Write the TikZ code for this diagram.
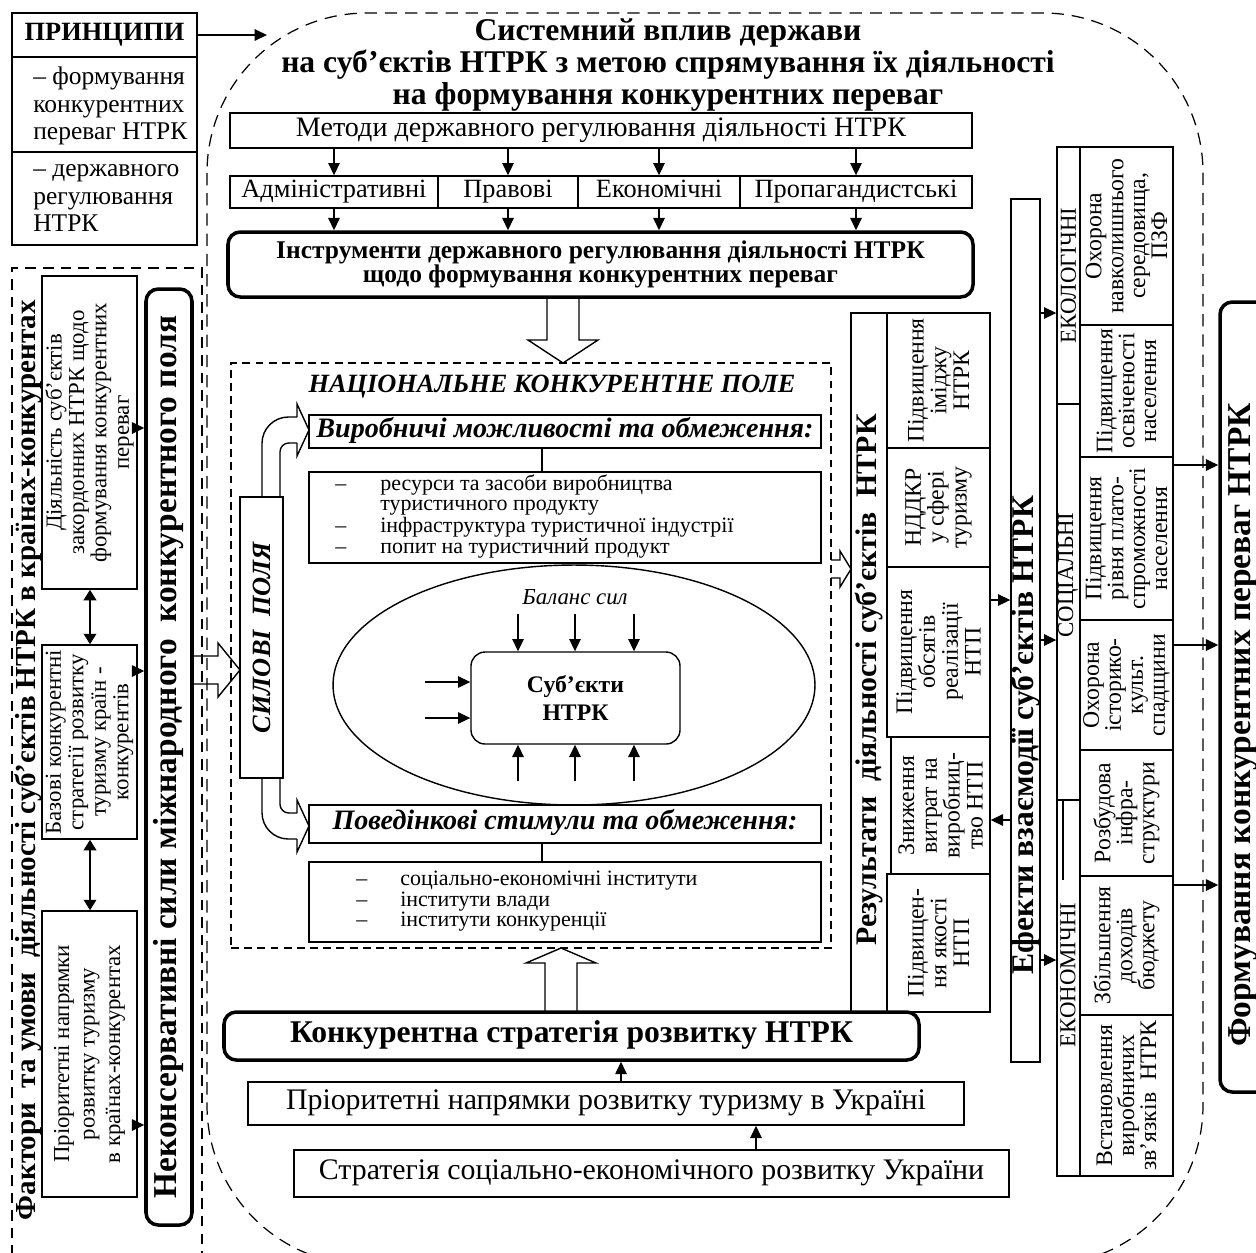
\documentclass[tikz,border=0pt]{standalone}
\usepackage{fontspec}
\setmainfont{Liberation Serif}
\usetikzlibrary{arrows.meta,fit,shapes.geometric}
\newcommand\fsz[2]{\fontsize{#1}{#2}\selectfont}
\begin{document}
\begin{tikzpicture}[x=0.02cm,y=-0.02cm,
  bx/.style={draw, line width=0.8pt, inner sep=0pt},
  tbx/.style={draw, line width=2pt, inner sep=0pt, rounded corners=7pt},
  arr/.style={-{Triangle[length=7pt,width=6.5pt]}, line width=0.8pt},
  darr/.style={{Triangle[length=6pt,width=7pt]}-{Triangle[length=6pt,width=7pt]}, line width=1.4pt},
  hol/.style={line width=0.8pt},
  txt/.style={inner sep=0pt, align=center},
  rtxt/.style={inner sep=0pt, align=center, rotate=90},
  bigdash/.style={line width=0.7pt, dash pattern=on 7pt off 4.5pt},
  smalldash/.style={line width=0.8pt, dash pattern=on 4.5pt off 3pt},
]
\useasboundingbox (0,0) rectangle (1256,1252);

% ---------- big dashed region
\draw[bigdash, rounded corners=3.2cm] (207,13) rectangle (1203,1265);

% ---------- principles
\node[bx, fit={(12,13) (197,57)}] (pr1) {};
\node[bx, fit={(12,57) (197,152)}] (pr2) {};
\node[bx, fit={(12,152) (197,245)}] (pr3) {};
\node[txt, font=\fsz{15}{16}\bfseries] at (pr1) {ПРИНЦИПИ};
\node[txt, align=left, anchor=west, font=\fsz{14.5}{15.6}] at (33,106) {– формування\\конкурентних\\переваг НТРК};
\node[txt, align=left, anchor=west, font=\fsz{14.5}{15.6}] at (33,198) {– державного\\регулювання\\НТРК};
\coordinate (prA) at (267,35);
\draw[arr] (pr1.east) -- (prA);

% ---------- title
\node[txt, font=\fsz{18}{18.2}\bfseries] (title) at (668,65) {Системний вплив держави\\на суб’єктів НТРК з метою спрямування їх діяльності\\на формування конкурентних переваг};

% ---------- methods
\node[bx, fit={(230,113) (972,148)}] (met) {};
\node[txt, font=\fsz{16}{17}] at (met) {\strut Методи державного регулювання діяльності НТРК};
\node[bx, fit={(230,176) (438,208)}] (m1) {};
\node[bx, fit={(438,176) (578,208)}] (m2) {};
\node[bx, fit={(578,176) (740,208)}] (m3) {};
\node[bx, fit={(740,176) (972,208)}] (m4) {};
\node[txt, font=\fsz{15}{16}] at (m1) {\strut Адміністративні};
\node[txt, font=\fsz{15}{16}] at (m2) {\strut Правові};
\node[txt, font=\fsz{15}{16}] at (m3) {\strut Економічні};
\node[txt, font=\fsz{15}{16}] at (m4) {\strut Пропагандистські};
\node[tbx, fit={(228,232) (973,297)}] (ins) {};
\node[txt, font=\fsz{14.5}{14}\bfseries] at (ins) {Інструменти державного регулювання діяльності НТРК\\щодо формування конкурентних переваг};
\foreach \m in {m1,m2,m3,m4}{
  \draw[arr] (met.south -| \m) -- (\m.north);
  \draw[arr] (\m.south) -- (ins.north -| \m);
}
% hollow arrow down
\draw[hol] (547,297) -- (547,340) -- (528,340) -- (563,363) -- (598,340) -- (579,340) -- (579,297);

% ---------- national field
\node[smalldash, draw, inner sep=0pt, fit={(231,363) (831,948)}] (nat) {};
\node[txt, font=\fsz{15}{16}\bfseries\itshape] at (552,387) {НАЦІОНАЛЬНЕ КОНКУРЕНТНЕ ПОЛЕ};

\node[bx, fit={(309,415) (821,448)}] (vyr) {};
\node[txt, font=\fsz{16}{17}\bfseries\itshape] at (vyr) {\strut Виробничі можливості та обмеження:};
\node[bx, fit={(309,472) (821,563)}] (l1) {};
\node[anchor=west, inner sep=0pt, font=\fsz{12.5}{11.8}] at (335,517) {\begin{tabular}{@{}p{0.9cm}@{}l@{}}–&ресурси та засоби виробництва\\&туристичного продукту\\–&інфраструктура туристичної індустрії\\–&попит на туристичний продукт\end{tabular}};
\coordinate (cx) at (542,0);
\draw[line width=0.8pt] (vyr.south -| cx) -- (l1.north -| cx);

\node[draw, ellipse, line width=0.8pt, minimum width=9.64cm, minimum height=4.8cm, inner sep=0pt] (ell) at (574,685) {};
\node[txt, font=\fsz{13}{14}\itshape] (bal) at (575,597) {Баланс сил};
\node[bx, rounded corners=8pt, fit={(471,652) (680,744)}] (sub) {};
\node[txt, font=\fsz{13.5}{16}\bfseries] at (sub) {Суб’єкти\\НТРК};
\foreach \xx [count=\i] in {518,575,634}{
  \coordinate (t\i) at (\xx,614);
  \coordinate (b\i) at (\xx,781);
  \draw[arr] (t\i) -- (t\i |- sub.north);
  \draw[arr] (b\i) -- (b\i |- sub.south);
}
\coordinate (w1) at (425,682);
\coordinate (w2) at (425,718);
\draw[arr] (w1) -- (w1 -| sub.west);
\draw[arr] (w2) -- (w2 -| sub.west);

\node[bx, fit={(309,805) (821,843)}] (pov) {};
\node[txt, font=\fsz{16}{17}\bfseries\itshape] at (pov) {\strut Поведінкові стимули та обмеження:};
\node[bx, fit={(309,862) (821,942)}] (l2) {};
\node[anchor=west, inner sep=0pt, font=\fsz{12.5}{11.8}] at (356,902) {\begin{tabular}{@{}p{0.88cm}@{}l@{}}–&соціально-економічні інститути\\–&інститути влади\\–&інститути конкуренції\end{tabular}};
\draw[line width=0.8pt] (pov.south -| cx) -- (l2.north -| cx);

% silovi polia
\node[bx, fit={(240,497) (283,778)}] (sil) {};
\node[rtxt, font=\fsz{15}{16}\bfseries\itshape] at (sil) {СИЛОВІ\ \ ПОЛЯ};
\draw[hol, rounded corners=15pt] (262,497) -- (262,417) -- (297,417);
\draw[hol, rounded corners=5pt] (280,497) -- (280,443) -- (297,443);
\draw[hol] (297,417) -- (297,404) -- (309,430) -- (297,456) -- (297,443);
\draw[hol, rounded corners=15pt] (262,778) -- (262,839) -- (297,839);
\draw[hol, rounded corners=5pt] (280,778) -- (280,813) -- (297,813);
\draw[hol] (297,813) -- (297,800) -- (309,826) -- (297,852) -- (297,839);

% ---------- bottom strategy
\node[tbx, fit={(224,1012) (919,1060)}] (kon) {};
\node[txt, font=\fsz{18}{19}\bfseries] at (kon) {\strut Конкурентна стратегія розвитку НТРК};
\node[bx, fit={(248,1082) (964,1125)}] (pu) {};
\node[txt, font=\fsz{17}{18}] at (pu) {\strut Пріоритетні напрямки розвитку туризму в Україні};
\node[bx, fit={(294,1150) (1009,1197)}] (su) {};
\node[txt, font=\fsz{17}{18}] at (su) {\strut Стратегія соціально-економічного розвитку України};
\coordinate (xk) at (621,0);
\coordinate (xs) at (756,0);
\draw[arr] (pu.north -| xk) -- (kon.south -| xk);
\draw[arr] (su.north -| xs) -- (pu.south -| xs);
\draw[hol] (545,1012) -- (545,963) -- (526,963) -- (561,948) -- (596,963) -- (577,963) -- (577,1012);

% ---------- left column
\node[line width=0.8pt, dash pattern=on 6pt off 4pt, draw, inner sep=0pt, fit={(12,268) (202,1300)}] (lft) {};
\node[rtxt, font=\fsz{16.5}{18}\bfseries] at (28,760) {Фактори\ \ та умови\ \ діяльності суб’єктів НТРК в країнах-конкурентах};
\node[bx, fit={(42,276) (137,589)}] (lb1) {};
\node[bx, fit={(42,645) (137,839)}] (lb2) {};
\node[bx, fit={(42,911) (137,1197)}] (lb3) {};
\node[rtxt, font=\fsz{13}{12.8}] at (lb1) {Діяльність суб’єктів\\закордонних НТРК щодо\\формування конкурентних\\переваг};
\node[rtxt, font=\fsz{13}{12.8}] at (lb2) {Базові конкурентні\\стратегії розвитку\\туризму країн -\\конкурентів};
\node[rtxt, font=\fsz{13}{14.5}] at (lb3) {Пріоритетні напрямки\\розвитку туризму\\в країнах-конкурентах};
\coordinate (x90) at (90,0);
\draw[darr] (lb1.south -| x90) -- (lb2.north -| x90);
\draw[darr] (lb2.south -| x90) -- (lb3.north -| x90);
\node[tbx, fit={(146,289) (192,1225)}] (nk) {};
\node[rtxt, font=\fsz{19}{20}\bfseries] at (nk) {Неконсервативні сили міжнародного\ \ конкурентного поля};
\coordinate (ya1) at (0,428);
\coordinate (ya2) at (0,671);
\coordinate (ya3) at (0,1125);
\draw[arr] (lb1.east |- ya1) -- (nk.west |- ya1);
\draw[arr] (lb2.east |- ya2) -- (nk.west |- ya2);
\draw[arr] (lb3.east |- ya3) -- (nk.west |- ya3);
\draw[hol] (192,656) -- (218,656) -- (218,643) -- (240,670) -- (218,697) -- (218,684) -- (192,684);

% ---------- results
\draw[hol] (831,560) -- (840,560) -- (840,551) -- (851,569) -- (840,587) -- (840,578) -- (831,578);
\node[bx, fit={(851,313) (990,1012)}] (res) {};
\node[rtxt, font=\fsz{17}{18}\bfseries] at (869,680) {Результати\ \ діяльності суб’єктів\ \ НТРК};
\node[bx, fit={(887,313) (990,448)}] (r1) {};
\node[bx, fit={(887,448) (990,567)}] (r2) {};
\node[bx, fit={(887,567) (990,737)}] (r3) {};
\node[bx, fit={(891,737) (990,874)}] (r4) {};
\node[bx, fit={(887,874) (990,1012)}] (r5) {};
\node[rtxt, font=\fsz{13.5}{13}] at (r1) {Підвищення\\іміджу\\НТРК};
\node[rtxt, font=\fsz{13.5}{13}] at (r2) {НДДКР\\у сфері\\туризму};
\node[rtxt, font=\fsz{13.5}{13}] at (r3) {Підвищення\\обсягів\\реалізації\\НТП};
\node[rtxt, font=\fsz{13.5}{13}] at (r4) {Зниження\\витрат на\\виробниц-\\тво НТП};
\node[rtxt, font=\fsz{13.5}{13}] at (r5) {Підвищен-\\ня якості\\НТП};

% ---------- effects
\node[bx, fit={(1011,199) (1040,1062)}] (ef) {};
\node[rtxt, font=\fsz{18}{19}\bfseries] at (1026,735) {Ефекти взаємодії суб’єктів НТРК};
\coordinate (ye1) at (0,600);
\coordinate (ye2) at (0,820);
\draw[arr] (r3.east |- ye1) -- (ef.west |- ye1);
\draw[arr] (ef.west |- ye2) -- (r4.east |- ye2);

\node[bx, fit={(1057,404) (1080,880)}] (soc) {};
\node[bx, fill=white, fit={(1057,147) (1080,404)}] (eco) {};
\node[bx, fill=white, fit={(1057,800) (1080,1176)}] (ekn) {};
\draw[line width=0.8pt] (1063,800) -- (1063,880);
\node[rtxt, font=\fsz{13}{14}] at (eco) {ЕКОЛОГІЧНІ};
\node[rtxt, font=\fsz{13}{14}] at (1068,575) {СОЦІАЛЬНІ};
\node[rtxt, font=\fsz{13}{14}] at (1068,975) {ЕКОНОМІЧНІ};
\coordinate (yl1) at (0,313);
\coordinate (yl2) at (0,640);
\coordinate (yl3) at (0,960);
\draw[arr] (ef.east |- yl1) -- (eco.west |- yl1);
\draw[arr] (ef.east |- yl2) -- (soc.west |- yl2);
\draw[arr] (ef.east |- yl3) -- (ekn.west |- yl3);

\node[bx, fit={(1080,147) (1173,325)}] (c1) {};
\node[bx, fit={(1080,325) (1173,457)}] (c2) {};
\node[bx, fit={(1080,457) (1173,620)}] (c3) {};
\node[bx, fit={(1080,620) (1173,750)}] (c4) {};
\node[bx, fit={(1080,750) (1173,876)}] (c5) {};
\node[bx, fit={(1080,876) (1173,1015)}] (c6) {};
\node[bx, fit={(1080,1015) (1173,1176)}] (c7) {};
\node[rtxt, font=\fsz{13.5}{12.5}] at (c1) {Охорона\\навколишнього\\середовища,\\ПЗФ};
\node[rtxt, font=\fsz{13.5}{12.5}] at (c2) {Підвищення\\освіченості\\населення};
\node[rtxt, font=\fsz{13.5}{12.5}] at (c3) {Підвищення\\рівня плато-\\спроможності\\населення};
\node[rtxt, font=\fsz{13.5}{12.5}] at (c4) {Охорона\\історико-\\культ.\\спадщини};
\node[rtxt, font=\fsz{13.5}{12.5}] at (c5) {Розбудова\\інфра-\\структури};
\node[rtxt, font=\fsz{13.5}{12.5}] at (c6) {Збільшення\\доходів\\бюджету};
\node[rtxt, font=\fsz{13.5}{12.5}] at (c7) {Встановлення\\виробничих\\зв’язків\ \ НТРК};

% ---------- formation
\node[tbx, fit={(1220,302) (1290,1092)}] (form) {};
\node[rtxt, font=\fsz{19}{20}\bfseries] at (1243,725) {Формування конкурентних переваг НТРК};
\coordinate (yf1) at (0,465);
\coordinate (yf2) at (0,645);
\coordinate (yf3) at (0,885);
\draw[arr] (c3.east |- yf1) -- (form.west |- yf1);
\draw[arr] (c4.east |- yf2) -- (form.west |- yf2);
\draw[arr] (c6.east |- yf3) -- (form.west |- yf3);
\end{tikzpicture}
\end{document}
